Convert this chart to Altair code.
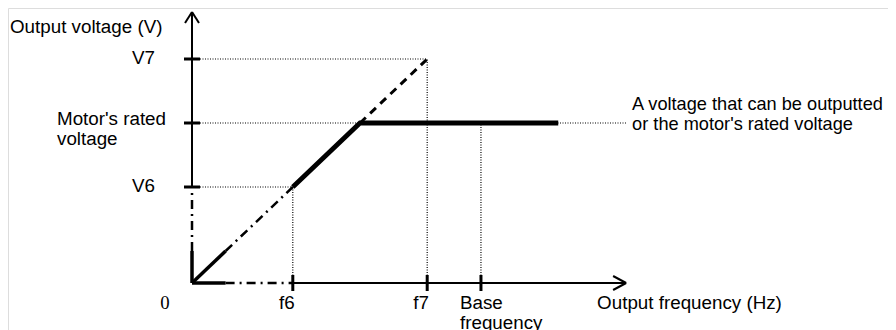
import altair as alt
import pandas as pd

# ---- values (arbitrary units, V = f along the ramp) ----
freq_names = ["f6", "f7", "Base\nfrequency"]
freq_values = [30, 70, 86]
volt_names = ["V6", "Motor's rated\nvoltage", "V7"]
volt_values = [30, 50, 70]
knee_f = 50          # frequency where the ramp reaches rated voltage
rated_v = 50
flat_end_f = 109     # end of the flat thick line
ramp_solid_end = 10  # short solid start of the ramp / axes
x_axis_end = 129.2
y_axis_end = 84.7
rated_note = "A voltage that can be outputted\nor the motor's rated voltage"

# ---- layout ----
W, H = 880, 322
KX, KY = 3.36, 3.2          # px per unit
X0, Y0 = 184, 275           # origin inside plot area
xdom = [-X0 / KX, (W - X0) / KX]
ydom = [(Y0 - H) / KY, Y0 / KY]
xs = alt.Scale(domain=xdom, nice=False, zero=False)
ys = alt.Scale(domain=ydom, nice=False, zero=False)
FONT = "Liberation Sans"
FS = 18.8

def seg_layer(rows, width, dash=None):
    df = pd.DataFrame(rows, columns=["x", "y", "x2", "y2"])
    kw = dict(color="black", strokeWidth=width, strokeCap="butt")
    if dash:
        kw["strokeDash"] = dash
    return alt.Chart(df).mark_rule(**kw).encode(
        x=alt.X("x:Q", scale=xs, axis=None),
        y=alt.Y("y:Q", scale=ys, axis=None),
        x2="x2:Q", y2="y2:Q")

tx = 8 / KX   # half tick length in x units
ty = 8 / KY   # half tick length in y units
layers = []

# dotted guide lines
dotted = []
dotted.append((tx, volt_values[0], freq_values[0], volt_values[0]))
dotted.append((tx, volt_values[1], x_axis_end, volt_values[1]))
dotted.append((tx, volt_values[2], freq_values[1], volt_values[2]))
dotted.append((freq_values[0], 0, freq_values[0], volt_values[0]))
dotted.append((freq_values[1], 0, freq_values[1], volt_values[2]))
dotted.append((freq_values[2], 0, freq_values[2], rated_v))
layers.append(seg_layer(dotted, 1.2, [1, 1.5]))

# thin axes
layers.append(seg_layer([(0, volt_values[0], 0, y_axis_end),
                         (freq_values[0], 0, x_axis_end, 0)], 2))
# arrow heads
ax_, ay_ = 7 / KX, 11 / KY
bx_, by_ = 13 / KX, 7 / KY
layers.append(seg_layer([(0, y_axis_end, -ax_, y_axis_end - ay_),
                         (0, y_axis_end, ax_, y_axis_end - ay_),
                         (x_axis_end, 0, x_axis_end - bx_, by_),
                         (x_axis_end, 0, x_axis_end - bx_, -by_)], 2))
# dash-dot low region
layers.append(seg_layer([(0, ramp_solid_end, 0, volt_values[0]),
                         (ramp_solid_end, 0, freq_values[0], 0),
                         (ramp_solid_end, ramp_solid_end, freq_values[0], volt_values[0])],
                        2.5, [9, 5, 2, 5]))
# solid thick start
layers.append(seg_layer([(0, 0, 0, ramp_solid_end),
                         (0, 0, ramp_solid_end, 0),
                         (0, 0, ramp_solid_end, ramp_solid_end)], 3.5))
# dashed extension to V7
layers.append(seg_layer([(knee_f, rated_v, freq_values[1], volt_values[2])], 3, [8, 6]))
# ticks
ticks = [(-tx, v, tx, v) for v in volt_values] + [(f, -ty, f, ty) for f in freq_values]
layers.append(seg_layer(ticks, 3))

# main thick characteristic
main = pd.DataFrame({"f": [freq_values[0], knee_f, flat_end_f],
                     "v": [volt_values[0], rated_v, rated_v],
                     "o": [0, 1, 2]})
layers.append(alt.Chart(main).mark_line(color="black", strokeWidth=4.8,
                                        strokeCap="butt", strokeJoin="miter").encode(
    x=alt.X("f:Q", scale=xs, axis=None), y=alt.Y("v:Q", scale=ys, axis=None), order="o:Q"))

def text_layer(df, align, dx, dy, font=FONT, size=FS):
    return alt.Chart(df).mark_text(align=align, baseline="middle", dx=dx, dy=dy,
                                   font=font, fontSize=size, lineBreak="\n",
                                   lineHeight=20, color="black").encode(
        x=alt.X("x:Q", scale=xs, axis=None), y=alt.Y("y:Q", scale=ys, axis=None),
        text="t:N")

# y labels
layers.append(text_layer(pd.DataFrame({"x": [0, 0], "y": [volt_values[0], volt_values[2]],
                                       "t": [volt_names[0], volt_names[2]]}), "right", -37, -1))
layers.append(text_layer(pd.DataFrame({"x": [0], "y": [volt_values[1]],
                                       "t": [volt_names[1]]}), "left", -135, -4))
# x labels
layers.append(text_layer(pd.DataFrame({"x": freq_values[:2], "y": [0, 0],
                                       "t": freq_names[:2]}), "center", -6, 19.5))
layers.append(text_layer(pd.DataFrame({"x": [freq_values[2]], "y": [0],
                                       "t": [freq_names[2]]}), "left", -21, 19.5))
layers.append(text_layer(pd.DataFrame({"x": [0], "y": [0], "t": ["0"]}),
                         "center", -27, 19.5, font="Liberation Serif"))
# axis titles
layers.append(text_layer(pd.DataFrame({"x": [0], "y": [y_axis_end],
                                       "t": ["Output voltage (V)"]}), "left", -182, 15))
layers.append(text_layer(pd.DataFrame({"x": [x_axis_end], "y": [0],
                                       "t": ["Output frequency (Hz)"]}), "left", -29, 20))
# note
layers.append(text_layer(pd.DataFrame({"x": [x_axis_end], "y": [rated_v],
                                       "t": [rated_note]}), "left", 6, -18, size=18.2))

chart = alt.layer(*layers).properties(
    width=W, height=H, padding=0, autosize="none"
).configure_view(stroke=None).configure(background="white")

chart.save("out.html", embed_options={"renderer": "svg", "actions": False})
